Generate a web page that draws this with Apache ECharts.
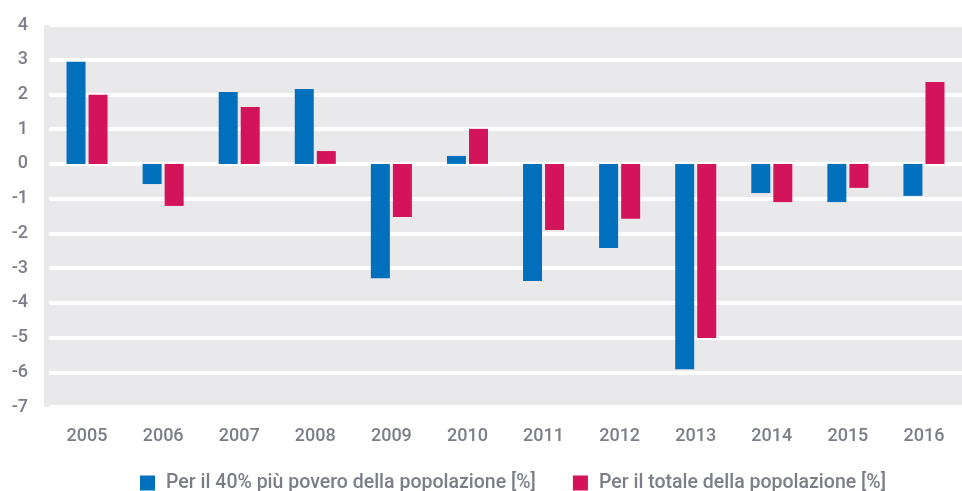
<!DOCTYPE html>
<html>
    <head>
        <meta charset="utf-8">
        <script src="https://cdn.jsdelivr.net/npm/echarts@6/dist/echarts.min.js"></script>
        <style>
            html, body {
                margin: 0;
                padding: 0;
                background: #fff;
            }
            #main {
                width: 962px;
                height: 491px;
            }
        </style>
    </head>
    <body>
        <div id="main"></div>

        <script>
            var years = ['2005', '2006', '2007', '2008', '2009', '2010',
                         '2011', '2012', '2013', '2014', '2015', '2016'];
            var poorest40 = [2.94, -0.58, 2.07, 2.16, -3.29, 0.23,
                             -3.37, -2.42, -5.91, -0.84, -1.10, -0.92];
            var totalPop = [1.99, -1.21, 1.64, 0.37, -1.53, 1.01,
                            -1.90, -1.58, -5.01, -1.10, -0.69, 2.36];
            var seriesNames = ['Per il 40% più povero della popolazione [%]',
                               'Per il totale della popolazione [%]'];

            var textColor = '#7b7e87';
            var fontName = 'Roboto, "DejaVu Sans", sans-serif';

            var chart = echarts.init(document.getElementById('main'), null, {renderer: 'canvas'});

            var option = {
                animation: false,
                color: ['#0070bd', '#d4145a'],
                grid: {
                    left: 49,
                    top: 25,
                    width: 923,
                    height: 382
                },
                // grey plot panel, it starts a bit left of the first category
                graphic: [{
                    type: 'rect',
                    z: -10,
                    shape: {x: 44, y: 25, width: 918, height: 382},
                    style: {fill: '#e9e9ec'}
                }],
                legend: {
                    left: 135,
                    top: 468,
                    itemWidth: 15,
                    itemHeight: 15,
                    itemGap: 37,
                    icon: 'rect',
                    textStyle: {
                        color: textColor,
                        fontSize: 19.5,
                        fontWeight: 500,
                        fontFamily: fontName,
                        padding: [0, 0, 0, 6]
                    }
                },
                xAxis: {
                    type: 'category',
                    data: years,
                    axisLine: {show: false},
                    axisTick: {show: false},
                    axisLabel: {
                        color: textColor,
                        fontSize: 18,
                        fontWeight: 500,
                        fontFamily: fontName,
                        margin: 20
                    }
                },
                yAxis: {
                    type: 'value',
                    min: -7,
                    max: 4,
                    interval: 1,
                    axisLine: {show: false},
                    axisTick: {show: false},
                    axisLabel: {
                        color: textColor,
                        fontSize: 18,
                        fontWeight: 500,
                        fontFamily: fontName,
                        margin: 21
                    },
                    splitLine: {
                        lineStyle: {color: '#ffffff', width: 4}
                    }
                },
                series: [{
                    name: seriesNames[0],
                    type: 'bar',
                    data: poorest40,
                    barWidth: 19,
                    barGap: '16%'
                }, {
                    name: seriesNames[1],
                    type: 'bar',
                    data: totalPop,
                    barWidth: 19,
                    barGap: '16%'
                }]
            };

            chart.setOption(option);
        </script>
    </body>
</html>
